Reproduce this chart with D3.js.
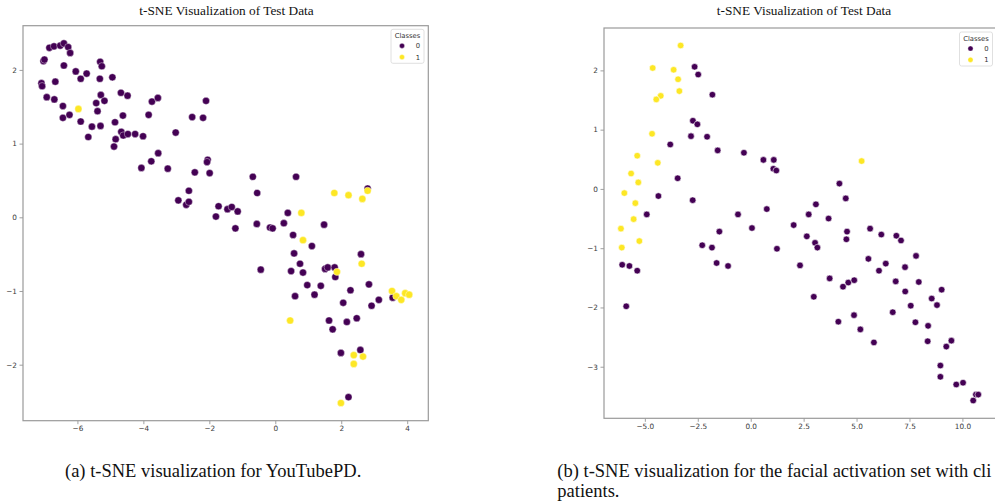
<!DOCTYPE html>
<html>
<head>
<meta charset="utf-8">
<script src="https://cdn.jsdelivr.net/npm/d3@7"></script>
<style>
  html, body { margin: 0; padding: 0; background: #fff; }
  svg { display: block; }
</style>
</head>
<body>
<svg id="chart" width="995" height="504"></svg>
<script>
// ---------- DATA ----------
const chartTitle = "t-SNE Visualization of Test Data";
const legendTitle = "Classes";
const classLabels = ["0", "1"];
const captionA = ["(a) t-SNE visualization for YouTubePD."];
const captionB = ["(b) t-SNE visualization for the facial activation set with cli", "patients."];

const leftXTicks = [-6, -4, -2, 0, 2, 4];
const leftYTicks = [-2, -1, 0, 1, 2];
const rightXTicks = [-5, -2.5, 0, 2.5, 5, 7.5, 10];
const rightYTicks = [-3, -2, -1, 0, 1, 2];

// (a) YouTubePD, class 0
const ytpdClass0 = [
  [-6.85,2.30],[-6.71,2.32],[-6.52,2.33],[-6.41,2.36],[-6.28,2.31],[-6.22,2.23],
  [-7.03,2.12],[-7.00,2.14],[-6.41,2.06],[-6.05,1.98],[-5.72,1.95],[-5.90,1.88],
  [-5.31,2.11],[-5.26,2.05],[-5.32,1.88],[-4.94,1.90],[-7.09,1.82],[-7.07,1.78],
  [-6.67,1.84],[-6.93,1.63],[-6.70,1.60],[-6.44,1.51],[-6.44,1.35],[-6.24,1.39],
  [-5.90,1.30],[-5.56,1.23],[-5.67,1.09],[-5.30,1.24],[-5.43,1.55],[-5.39,1.44],
  [-5.29,1.66],[-5.18,1.58],[-4.86,1.29],[-4.68,1.69],[-4.48,1.65],[-4.62,1.38],
  [-4.67,1.16],[-4.61,1.11],[-4.47,1.13],[-4.25,1.13],[-4.01,1.10],[-4.84,1.06],
  [-4.89,0.96],[-3.84,1.39],[-3.74,1.57],[-3.56,1.62],[-3.55,0.87],[-3.76,0.76],
  [-4.06,0.67],[-3.26,0.66],[-3.02,1.15],[-2.52,1.36],[-2.19,1.35],[-2.10,1.58],
  [-2.05,0.78],[-2.07,0.75],[-2.44,0.61],[-1.99,0.60],[-2.94,0.23],[-2.70,0.17],
  [-2.62,0.21],[-2.62,0.36],[-1.72,0.15],[-1.80,0.01],[-1.45,0.11],[-1.32,0.14],
  [-1.14,0.08],[-1.21,-0.15],[-0.68,0.55],[0.63,0.55],[-0.55,0.33],[0.38,0.06],
  [-0.56,-0.09],[-0.16,-0.14],[-0.08,-0.15],[0.26,-0.08],[1.48,-0.10],[2.80,0.39],
  [0.54,-0.24],[1.11,-0.39],[0.57,-0.49],[0.75,-0.63],[0.48,-0.73],[0.84,-0.75],
  [-0.44,-0.71],[0.97,-0.92],[0.60,-1.07],[1.19,-1.05],[1.38,-0.93],[1.51,-0.70],
  [1.59,-0.68],[1.80,-0.68],[1.82,-0.81],[2.60,-0.50],[2.28,-0.99],[2.06,-1.16],
  [2.84,-0.91],[3.14,-1.12],[2.92,-1.20],[3.56,-1.09],[1.63,-1.40],[1.74,-1.52],
  [2.17,-1.42],[2.47,-1.37],[2.58,-1.80],[1.99,-1.84],[2.22,-2.44]
];
// (a) YouTubePD, class 1
const ytpdClass1 = [
  [-5.97,1.47],[0.79,0.06],[1.79,0.33],[2.22,0.30],[2.64,0.25],[2.80,0.36],
  [0.84,-0.31],[1.87,-0.74],[2.62,-0.63],[3.54,-1.00],[3.67,-1.07],[3.82,-1.12],
  [3.94,-1.03],[4.06,-1.05],[0.45,-1.40],[2.38,-1.87],[2.66,-1.89],[2.38,-1.99],
  [1.99,-2.52]
];

// (b) facial activation set, class 0
const facialClass0 = [
  [-2.65,2.06],[-2.48,1.93],[-1.81,1.59],[-2.73,1.15],[-2.52,1.09],[-2.82,0.89],
  [-2.06,0.88],[-3.80,0.75],[-1.56,0.65],[-0.32,0.61],[0.60,0.49],[-3.45,0.18],
  [-4.36,-0.12],[-2.74,-0.19],[-4.91,-0.43],[-0.60,-0.43],[0.76,-0.34],[0.06,-0.66],
  [-2.29,-0.95],[-1.83,-0.99],[-1.48,-0.72],[-1.61,-1.25],[-1.07,-1.30],[-6.07,-1.28],
  [-5.73,-1.30],[-5.36,-1.38],[-5.88,-1.98],[1.09,0.49],[1.07,0.34],[1.21,0.31],
  [4.19,0.09],[4.49,-0.16],[3.08,-0.26],[2.74,-0.43],[3.68,-0.50],[2.03,-0.61],
  [5.64,-0.67],[2.65,-0.80],[3.04,-0.91],[3.15,-0.99],[1.24,-1.01],[2.33,-1.29],
  [4.55,-0.72],[4.52,-0.85],[6.17,-0.77],[6.88,-0.79],[7.10,-0.87],[7.81,-1.13],
  [5.56,-1.18],[6.38,-1.26],[6.06,-1.38],[7.29,-1.32],[3.73,-1.51],[4.61,-1.58],
  [4.89,-1.54],[4.36,-1.65],[2.98,-1.82],[6.85,-1.56],[7.94,-1.57],[7.30,-1.73],
  [9.02,-1.70],[8.55,-1.85],[8.80,-1.96],[7.56,-1.97],[6.71,-2.08],[4.88,-2.13],
  [4.14,-2.24],[5.18,-2.37],[5.82,-2.59],[7.78,-2.25],[8.38,-2.31],[8.36,-2.57],
  [9.48,-2.56],[9.24,-2.66],[8.96,-2.98],[8.96,-3.17],[9.71,-3.30],[10.03,-3.27],
  [10.64,-3.47],[10.75,-3.47],[10.51,-3.57]
];
// (b) facial activation set, class 1
const facialClass1 = [
  [-3.31,2.42],[-4.63,2.04],[-3.64,2.01],[-3.43,1.85],[-3.37,1.65],[-4.25,1.57],
  [-4.46,1.51],[-4.66,0.93],[-5.36,0.56],[-4.39,0.44],[-5.65,0.26],[-5.31,0.11],
  [-5.97,-0.07],[-5.45,-0.24],[-5.53,-0.51],[-6.13,-0.67],[-5.26,-0.88],[-6.09,-0.99],
  [5.24,0.47]
];

const classColors = ["#440154", "#fde725"];

// ---------- DRAW ----------
const svg = d3.select("#chart");

function panel(opts) {
  const g = svg.append("g");
  const x = d3.scaleLinear().domain(opts.xDomain).range([opts.left, opts.right]);
  const y = d3.scaleLinear().domain(opts.yDomain).range([opts.bottom, opts.top]);

  const clipId = "clip" + opts.id;
  svg.append("clipPath").attr("id", clipId).append("rect")
    .attr("x", opts.left).attr("y", opts.top)
    .attr("width", opts.right - opts.left).attr("height", opts.bottom - opts.top);

  const xAxis = d3.axisBottom(x).tickValues(opts.xTicks).tickSize(3.5).tickPadding(2)
    .tickFormat(opts.xFormat);
  const yAxis = d3.axisLeft(y).tickValues(opts.yTicks).tickSize(3.5).tickPadding(2.5)
    .tickFormat(d3.format("d"));
  const gx = g.append("g").attr("transform", `translate(0,${opts.bottom})`).call(xAxis);
  const gy = g.append("g").attr("transform", `translate(${opts.left},0)`).call(yAxis);
  [gx, gy].forEach(a => {
    a.select(".domain").remove();
    a.selectAll(".tick line").attr("stroke", "#888").attr("stroke-width", 0.8);
    a.selectAll(".tick text").attr("fill", "#3a3a3a")
      .style("font-family", "'DejaVu Sans', sans-serif").style("font-size", "7.3px");
  });

  g.append("rect")
    .attr("x", opts.left).attr("y", opts.top)
    .attr("width", opts.right - opts.left).attr("height", opts.bottom - opts.top)
    .attr("fill", "none").attr("stroke", "#9a9a9a").attr("stroke-width", 1.2);

  const pg = g.append("g").attr("clip-path", `url(#${clipId})`);
  opts.series.forEach((pts, ci) => {
    pg.selectAll(null).data(pts).enter().append("circle")
      .attr("cx", d => x(d[0])).attr("cy", d => y(d[1]))
      .attr("r", opts.r)
      .attr("fill", classColors[ci])
      .attr("stroke", "#fff").attr("stroke-width", opts.edge);
  });

  g.append("text")
    .attr("x", opts.titleX).attr("y", 15)
    .attr("text-anchor", "middle")
    .style("font-family", "'Liberation Serif', 'Times New Roman', serif")
    .style("font-size", "13.3px").attr("fill", "#111")
    .text(chartTitle);

  const lg = g.append("g").attr("transform", `translate(${opts.legX},${opts.legY})`);
  lg.append("rect").attr("x", 0).attr("y", 0).attr("width", 33).attr("height", 34)
    .attr("rx", 2).attr("fill", "#fff").attr("fill-opacity", 0.85)
    .attr("stroke", "#d8d8d8").attr("stroke-width", 0.8);
  lg.append("text").attr("x", 16.5).attr("y", 8.5).attr("text-anchor", "middle")
    .style("font-family", "'DejaVu Sans', sans-serif").style("font-size", "6.8px")
    .attr("fill", "#333").text(legendTitle);
  classLabels.forEach((lab, i) => {
    lg.append("circle").attr("cx", 11).attr("cy", 16.5 + i * 11.3).attr("r", 2.6)
      .attr("fill", classColors[i]).attr("stroke", "#fff").attr("stroke-width", 0.4);
    lg.append("text").attr("x", 27).attr("y", 19 + i * 11.3).attr("text-anchor", "middle")
      .style("font-family", "'DejaVu Sans', sans-serif").style("font-size", "6.8px")
      .attr("fill", "#333").text(lab);
  });

  opts.caption.forEach((line, i) => {
    g.append("text").attr("x", opts.capX).attr("y", 476.5 + i * 20.6)
      .style("font-family", "'Liberation Serif', 'Times New Roman', serif")
      .style("font-size", "18.5px").attr("fill", "#111")
      .text(line);
  });
}

panel({
  id: "a", left: 23, right: 428.3, top: 25.7, bottom: 420.7,
  xDomain: [-7.65, 4.64], yDomain: [-2.76, 2.60],
  xTicks: leftXTicks, yTicks: leftYTicks, xFormat: d3.format("d"),
  series: [ytpdClass0, ytpdClass1], r: 3.6, edge: 0.4,
  titleX: 226.5, legX: 391, legY: 29.3,
  caption: captionA, capX: 65
});

panel({
  id: "b", left: 604, right: 997, top: 28, bottom: 418.3,
  xDomain: [-6.93, (997 - 750.7) / 21.17], yDomain: [-3.87, 2.715],
  xTicks: rightXTicks, yTicks: rightYTicks, xFormat: d3.format(".1f"),
  series: [facialClass0, facialClass1], r: 3.3, edge: 0.6,
  titleX: 804, legX: 959.5, legY: 32,
  caption: captionB, capX: 557.3
});
</script>
</body>
</html>
